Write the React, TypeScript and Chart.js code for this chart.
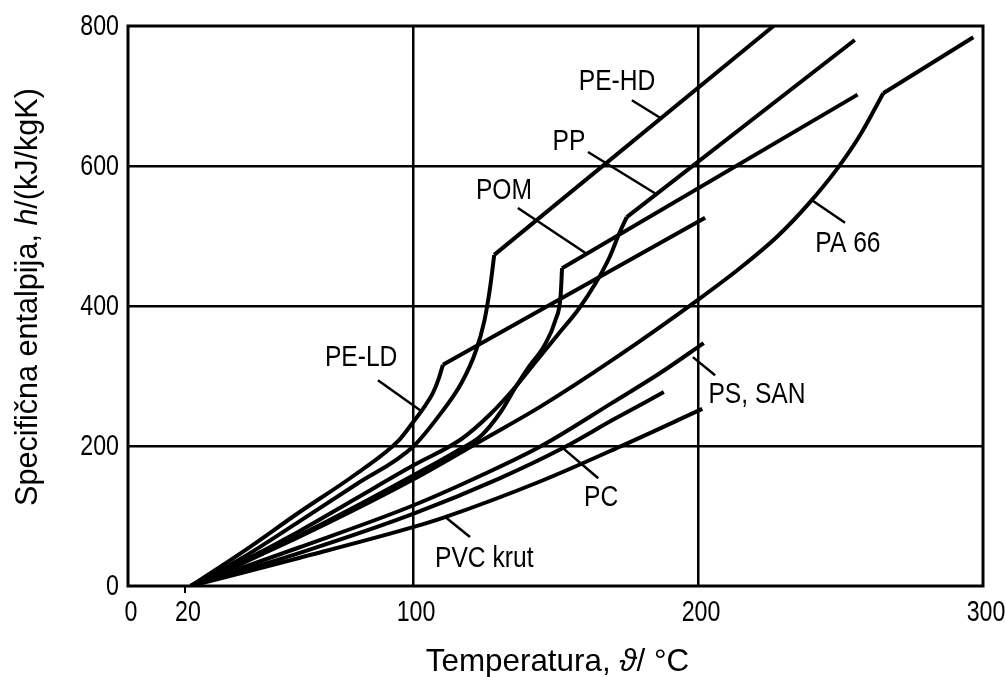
import React, { useEffect, useRef } from "react";
import { Chart, registerables } from "chart.js";

Chart.register(...registerables);

const FONT = '"Liberation Sans", Arial, Helvetica, sans-serif';

// ---------- data (temperature °C, specific enthalpy kJ/kg) ----------
const peLdX = [22, 40, 60, 80, 95, 100, 104, 107, 109, 110.5];
const peLdY = [0, 48, 105, 160, 208, 234, 256, 276, 296, 316];
const peLdUpX = [110.5, 202.5];
const peLdUpY = [316, 526];

const peHdX = [22, 40, 60, 80, 100, 110, 117, 122, 125, 127, 128.5];
const peHdY = [0, 40, 92, 145, 199, 248, 290, 335, 378, 425, 473];
const peHdUpX = [128.5, 226.5];
const peHdUpY = [473, 800];

const ppX = [22, 40, 60, 80, 100, 117, 127, 135, 143, 151, 158, 164, 169, 172.5, 175];
const ppY = [0, 35, 78, 125, 172, 210, 245, 280, 320, 360, 395, 432, 470, 505, 527];
const ppUpX = [175, 255];
const ppUpY = [527, 780];

const pomX = [22, 40, 60, 80, 100, 115, 124, 131, 136, 141, 146, 150, 151.8, 152.3];
const pomY = [0, 32, 72, 114, 158, 192, 215, 250, 284, 315, 343, 380, 415, 454];
const pomUpX = [152.3, 256];
const pomUpY = [454, 702];

const pa66X = [22, 60, 100, 125, 145, 170, 200.7, 215, 228, 239, 249, 257, 265];
const pa66Y = [0, 70, 152, 210, 257, 323, 411, 455, 500, 547, 597, 645, 704];
const pa66UpX = [265, 296.6];
const pa66UpY = [704, 784];

const psX = [22, 60, 100, 125, 145, 170, 187, 202];
const psY = [0, 55, 115, 160, 200, 262, 305, 347];

const pcX = [22, 60, 100, 130, 152.6, 170, 188];
const pcY = [0, 47, 103, 153, 197, 237, 277];

const pvcX = [22, 60, 100, 111, 145, 172.6, 201.5];
const pvcY = [0, 40, 84, 98, 150, 199, 253];

const xTicks = [0, 20, 100, 200, 300];
const yTicks = [0, 200, 400, 600, 800];
const xGrid = [100, 200];
const yGrid = [200, 400, 600];

// labels with leader lines (data coordinates)
const labelText = ["PE-HD", "PP", "POM", "PE-LD", "PA 66", "PS, SAN", "PC", "PVC krut"];
const labelAt = [[171.6, 721], [154.7, 634], [131.9, 564], [81.8, 326], [252.6, 489], [220.7, 273], [166, 126], [125, 39]];
const leaderFrom = [[176.8, 694], [161.4, 620], [136.8, 540], [87.7, 294], [251.6, 519], [206, 301], [165, 154], [120, 70]];
const leaderTo = [[186.7, 669], [184.9, 561], [160.4, 476], [102.5, 251], [240, 551], [198.2, 327], [152.6, 197], [111.2, 99]];

const xTitle = [{ t: "Temperatura, ", i: false }, { t: "ϑ", i: true }, { t: "/ °C", i: false }];
const yTitle = [{ t: "Specifična entalpija, ", i: false }, { t: "h", i: true }, { t: "/(kJ/kgK)", i: false }];

function pts(xs: number[], ys: number[]) {
  return xs.map((x, i) => ({ x, y: ys[i] }));
}

const curves: { d: { x: number; y: number }[]; smooth: boolean }[] = [
  { d: pts(peLdX, peLdY), smooth: true },
  { d: pts(peLdUpX, peLdUpY), smooth: false },
  { d: pts(peHdX, peHdY), smooth: true },
  { d: pts(peHdUpX, peHdUpY), smooth: false },
  { d: pts(ppX, ppY), smooth: true },
  { d: pts(ppUpX, ppUpY), smooth: false },
  { d: pts(pomX, pomY), smooth: true },
  { d: pts(pomUpX, pomUpY), smooth: false },
  { d: pts(pa66X, pa66Y), smooth: true },
  { d: pts(pa66UpX, pa66UpY), smooth: false },
  { d: pts(psX, psY), smooth: true },
  { d: pts(pcX, pcY), smooth: true },
  { d: pts(pvcX, pvcY), smooth: true },
];

function drawText(
  ctx: CanvasRenderingContext2D,
  s: string,
  x: number,
  y: number,
  size: number,
  sx: number,
  align: CanvasTextAlign
) {
  ctx.save();
  ctx.translate(x, y);
  ctx.scale(sx, 1);
  ctx.font = `${size}px ${FONT}`;
  ctx.textAlign = align;
  ctx.textBaseline = "middle";
  ctx.fillText(s, 0, 0);
  ctx.restore();
}

function drawRuns(ctx: CanvasRenderingContext2D, runs: { t: string; i: boolean }[], size: number, sx: number) {
  ctx.scale(sx, 1);
  const widths = runs.map((r) => {
    ctx.font = `${r.i ? "italic " : ""}${size}px ${FONT}`;
    return ctx.measureText(r.t).width;
  });
  const total = widths.reduce((a, b) => a + b, 0);
  let x = -total / 2;
  ctx.textAlign = "left";
  ctx.textBaseline = "middle";
  runs.forEach((r, k) => {
    ctx.font = `${r.i ? "italic " : ""}${size}px ${FONT}`;
    ctx.fillText(r.t, x, 0);
    x += widths[k];
  });
}

const decorPlugin = {
  id: "decor",
  afterDatasetsDraw(chart: any) {
    const { ctx, chartArea } = chart;
    const xs = chart.scales.x;
    const ys = chart.scales.y;
    ctx.save();
    // frame
    ctx.strokeStyle = "#000";
    ctx.lineWidth = 3;
    ctx.strokeRect(chartArea.left, chartArea.top, chartArea.right - chartArea.left, chartArea.bottom - chartArea.top);
    // small tick at 20
    ctx.lineWidth = 2;
    ctx.beginPath();
    ctx.moveTo(xs.getPixelForValue(xTicks[1]), chartArea.bottom);
    ctx.lineTo(xs.getPixelForValue(xTicks[1]), chartArea.bottom + 7);
    ctx.stroke();
    // leaders
    ctx.lineWidth = 2.5;
    leaderFrom.forEach((f, k) => {
      const t = leaderTo[k];
      ctx.beginPath();
      ctx.moveTo(xs.getPixelForValue(f[0]), ys.getPixelForValue(f[1]));
      ctx.lineTo(xs.getPixelForValue(t[0]), ys.getPixelForValue(t[1]));
      ctx.stroke();
    });
    ctx.fillStyle = "#000";
    // curve labels
    labelText.forEach((s, k) => {
      drawText(ctx, s, xs.getPixelForValue(labelAt[k][0]), ys.getPixelForValue(labelAt[k][1]), 30, 0.82, "center");
    });
    // tick labels
    xTicks.forEach((v) => {
      drawText(ctx, String(v), xs.getPixelForValue(v) + 3, chartArea.bottom + 27, 29, 0.8, "center");
    });
    yTicks.forEach((v) => {
      drawText(ctx, String(v), chartArea.left - 9, ys.getPixelForValue(v) + 1, 29, 0.8, "right");
    });
    // axis titles
    ctx.save();
    ctx.translate((chartArea.left + chartArea.right) / 2 + 2, 662);
    drawRuns(ctx, xTitle, 32, 0.98);
    ctx.restore();
    ctx.save();
    ctx.translate(28, (chartArea.top + chartArea.bottom) / 2 - 9);
    ctx.rotate(-Math.PI / 2);
    drawRuns(ctx, yTitle, 32, 0.955);
    ctx.restore();
    ctx.restore();
  },
};

export default function App() {
  const ref = useRef<HTMLCanvasElement | null>(null);
  useEffect(() => {
    if (!ref.current) return;
    const transparent = "rgba(0,0,0,0)";
    const chart = new Chart(ref.current, {
      type: "line",
      data: {
        datasets: curves.map((c) => ({
          data: c.d,
          borderColor: "#000",
          borderWidth: 4,
          pointRadius: 0,
          fill: false,
          cubicInterpolationMode: c.smooth ? "monotone" : "default",
          tension: 0,
          borderCapStyle: "butt",
          borderJoinStyle: "round",
        })),
      },
      options: {
        animation: false,
        responsive: false,
        parsing: false as any,
        layout: { padding: { top: 26, right: 22, left: 0, bottom: 0 } },
        plugins: { legend: { display: false }, tooltip: { enabled: false } },
        scales: {
          x: {
            type: "linear",
            min: 0,
            max: 300,
            afterBuildTicks: (s: any) => {
              s.ticks = xTicks.map((v) => ({ value: v }));
            },
            afterFit: (s: any) => {
              s.height = 91;
            },
            border: { display: false },
            grid: {
              color: (c: any) => (c.tick && xGrid.includes(c.tick.value) ? "#000" : transparent),
              lineWidth: 2.5,
              drawTicks: false,
            },
            ticks: { display: false },
          },
          y: {
            type: "linear",
            min: 0,
            max: 800,
            afterBuildTicks: (s: any) => {
              s.ticks = yTicks.map((v) => ({ value: v }));
            },
            afterFit: (s: any) => {
              s.width = 128;
            },
            border: { display: false },
            grid: {
              color: (c: any) => (c.tick && yGrid.includes(c.tick.value) ? "#000" : transparent),
              lineWidth: 2.5,
              drawTicks: false,
            },
            ticks: { display: false },
          },
        },
      },
      plugins: [decorPlugin],
    } as any);
    return () => chart.destroy();
  }, []);
  return (
    <div style={{ position: "absolute", left: 0, top: 0, width: 1005, height: 677, background: "#fff" }}>
      <canvas ref={ref} width={1005} height={677} style={{ display: "block" }} />
    </div>
  );
}
